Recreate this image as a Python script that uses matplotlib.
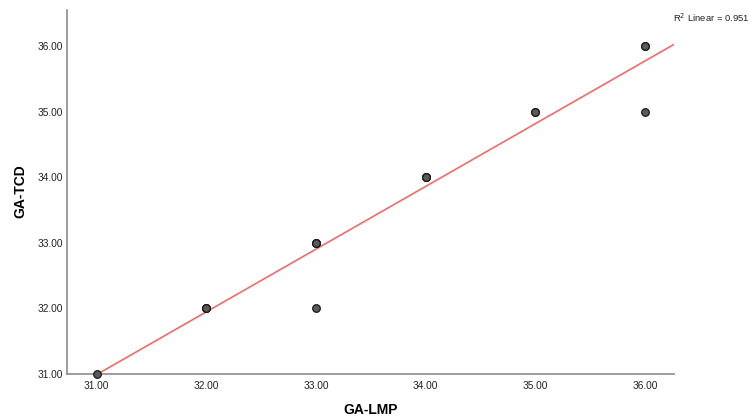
import matplotlib
matplotlib.use("Agg")
import matplotlib.pyplot as plt
import numpy as np

plt.rcParams["font.family"] = ["Liberation Sans", "DejaVu Sans"]

# GA by LMP vs GA by TCD (weeks); repeated pairs are overlapping cases
ga_lmp = [31, 32, 32, 32, 33, 33, 33, 34, 34, 34, 35, 35, 36, 36, 33, 36]
ga_tcd = [31, 32, 32, 32, 33, 33, 33, 34, 34, 34, 35, 35, 36, 36, 32, 35]
x_ticks = [31, 32, 33, 34, 35, 36]
y_ticks = [31, 32, 33, 34, 35, 36]
r2_label = "R$^2$ Linear = 0.951"

x = np.array(ga_lmp, dtype=float)
y = np.array(ga_tcd, dtype=float)
slope, intercept = np.polyfit(x, y, 1)

fig = plt.figure(figsize=(7.49, 4.2), dpi=100)
ax = fig.add_axes([0.0895, 0.1095, 0.8105, 0.8665])

xmin, xmax = 30.73, 36.265
ymin, ymax = 31.0, 36.55

# fit line from x=31 to the right edge
xl = np.array([31.0, xmax])
ax.plot(xl, intercept + slope * xl, color="#f26b6b", lw=1.2, zorder=2)

ax.scatter(x, y, s=30, facecolor="#5a5a5a", edgecolor="#1a1a1a",
           linewidth=0.9, zorder=3, clip_on=False)

ax.set_xlim(xmin, xmax)
ax.set_ylim(ymin, ymax)
ax.set_xticks(x_ticks)
ax.set_yticks(y_ticks)
ax.set_xticklabels([f"{v:.2f}" for v in x_ticks])
ax.set_yticklabels([f"{v:.2f}" for v in y_ticks])
ax.tick_params(length=0, labelsize=7.3, colors="#222222")
ax.tick_params(axis="x", pad=5)
ax.tick_params(axis="y", pad=3)

for side in ["top", "right"]:
    ax.spines[side].set_visible(False)
for side in ["left", "bottom"]:
    ax.spines[side].set_color("#8c8c8c")
    ax.spines[side].set_linewidth(1.2)

ax.set_xlabel("GA-LMP", fontsize=10, fontweight="bold", va="center")
ax.set_ylabel("GA-TCD", fontsize=10, fontweight="bold", va="center")
ax.xaxis.set_label_coords(0.5, -0.099)
ax.yaxis.set_label_coords(-0.0774, 0.503)

fig.text(0.899, 0.957, r2_label, fontsize=6.8, ha="left", va="center", color="#222222")

fig.savefig("out.png", dpi=100)
